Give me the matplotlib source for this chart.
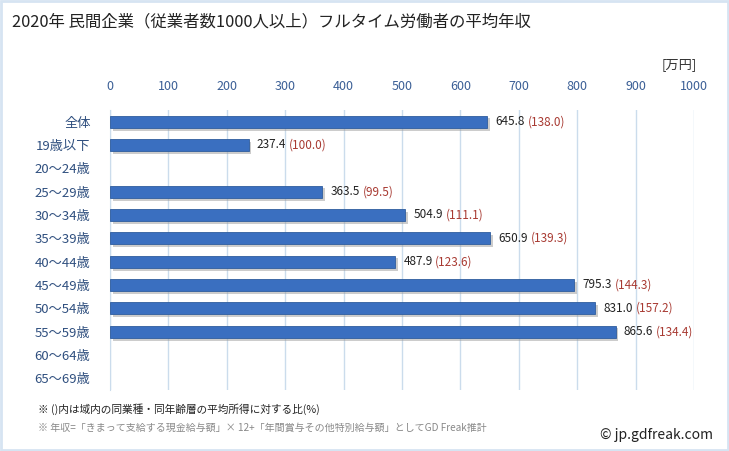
import matplotlib.pyplot as plt
import matplotlib.patheffects as pe
import numpy as np

plt.rcParams['font.family'] = ['Noto Sans CJK JP', 'DejaVu Sans']

# ==========================================
# DATA
# ==========================================
categories = ['全体', '19歳以下', '20～24歳', '25～29歳', '30～34歳', '35～39歳',
              '40～44歳', '45～49歳', '50～54歳', '55～59歳', '60～64歳', '65～69歳']
income = [645.8, 237.4, np.nan, 363.5, 504.9, 650.9, 487.9, 795.3, 831.0, 865.6, np.nan, np.nan]
ratio = [138.0, 100.0, np.nan, 99.5, 111.1, 139.3, 123.6, 144.3, 157.2, 134.4, np.nan, np.nan]
x_ticks = [0, 100, 200, 300, 400, 500, 600, 700, 800, 900, 1000]

# ==========================================
# PLOTTING
# ==========================================
W, H = 729, 451
fig = plt.figure(figsize=(W / 100, H / 100), dpi=100)
fig.patch.set_facecolor('white')

# light blue frame around the figure
fig.add_artist(plt.Rectangle((0.002, 0.002), 0.996, 0.996, transform=fig.transFigure,
                             fill=False, edgecolor='#d6e4f2', linewidth=2))

ax = fig.add_axes([110 / W, 1 - 390 / H, (694 - 110) / W, (390 - 110) / H])

y = np.arange(len(categories))
inc = np.array(income, dtype=float)
has = ~np.isnan(inc)
bars = ax.barh(y[has], inc[has], height=0.52, color='#3a6fc0', edgecolor='#2f5d9e',
               linewidth=0.6, zorder=3)
for b in bars:
    b.set_path_effects([pe.SimplePatchShadow(offset=(2, -2), shadow_rgbFace='#9a9a9a', alpha=0.5),
                        pe.Normal()])

ax.set_xlim(0, 1000)
ax.set_ylim(len(categories) - 0.5, -0.5)
ax.set_xticks(x_ticks)
ax.xaxis.tick_top()
ax.tick_params(axis='x', length=0, pad=12, labelsize=9, labelcolor='#3b5f96')
ax.set_yticks(y)
ax.set_yticklabels(categories)
ax.tick_params(axis='y', length=0, pad=14, labelsize=9.5, labelcolor='#2f4f7f')

ax.grid(axis='x', color='#cbdcec', linewidth=1, zorder=0)
for s in ['top', 'right', 'bottom']:
    ax.spines[s].set_visible(False)
ax.spines['left'].set_color('#cbdcec')

for i, (v, r) in enumerate(zip(income, ratio)):
    if np.isnan(v):
        continue
    t = ax.annotate(f'{v:.1f}', xy=(v, i), xytext=(6, 0), textcoords='offset points',
                    ha='left', va='center', fontsize=8.5, color='#222222')
    ax.annotate(f'({r:.1f})', xy=(1, 0.5), xycoords=t, xytext=(2, 0),
                textcoords='offset points', ha='left', va='center',
                fontsize=8.5, color='#a83a32')

fig.text(12 / W, 1 - 22 / H, '2020年 民間企業（従業者数1000人以上）フルタイム労働者の平均年収',
         fontsize=11.8, ha='left', va='center', color='#222222')
fig.text(697 / W, 1 - 65 / H, '[万円]', fontsize=9.5, ha='right', va='center', color='#333333')

fig.text(38 / W, 1 - 409 / H, '※ ()内は域内の同業種・同年齢層の平均所得に対する比(%)',
         fontsize=7.7, ha='left', va='center', color='#222222')
fig.text(38 / W, 1 - 428 / H,
         '※ 年収=「きまって支給する現金給与額」× 12+「年間賞与その他特別給与額」としてGD Freak推計',
         fontsize=7.2, ha='left', va='center', color='#888888')
fig.text(713 / W, 1 - 435 / H, '© jp.gdfreak.com', fontsize=10, ha='right', va='center',
         color='#222222')

fig.savefig('out.png', dpi=100)
